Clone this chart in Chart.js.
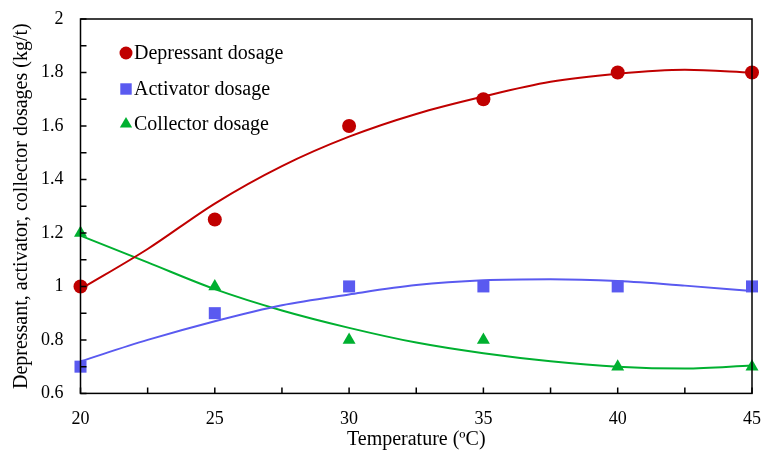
<!DOCTYPE html>
<html>
<head>
<meta charset="utf-8">
<script src="https://cdn.jsdelivr.net/npm/chart.js@4.4.1/dist/chart.umd.min.js"></script>
<style>
html, body { margin: 0; padding: 0; background: #fff; }
#wrap { width: 763px; height: 451px; }
</style>
</head>
<body>
<div id="wrap"><canvas id="chart"></canvas></div>
<script>
// measured points
var temps = [20, 25, 30, 35, 40, 45];
var depressant = [1.0, 1.25, 1.6, 1.7, 1.8, 1.8];
var activator = [0.7, 0.9, 1.0, 1.0, 1.0, 1.0];
var collector = [1.2, 1.0, 0.8, 0.8, 0.7, 0.7];

// trend curves
var curveTemps = [20, 22.5, 25, 27.5, 30, 32.5, 35, 37.5, 40, 42.5, 45];
var depressantFit = [0.99, 1.14, 1.31, 1.45, 1.56, 1.645, 1.71, 1.765, 1.795, 1.81, 1.80];
var activatorFit = [0.72, 0.80, 0.87, 0.93, 0.97, 1.005, 1.023, 1.027, 1.02, 1.003, 0.983];
var collectorFit = [1.19, 1.09, 0.99, 0.91, 0.845, 0.79, 0.75, 0.72, 0.70, 0.693, 0.704];

var red = "#C00000", blue = "#5A5AF0", green = "#00B030";
var sizes = { circle: 7, rect: 8.5, triangle: 7.5 };

function pts(xs, ys) {
	var out = [];
	for (var i = 0; i < xs.length; i++) out.push({x: xs[i], y: ys[i]});
	return out;
}

function fitSet(data, color) {
	return {
		label: "fit", data: pts(curveTemps, data), showLine: true,
		borderColor: color, borderWidth: 2, pointRadius: 0,
		cubicInterpolationMode: "monotone", fill: false, order: 2
	};
}

function pointSet(label, data, color, style) {
	return {
		label: label, data: pts(temps, data), showLine: false, clip: false,
		backgroundColor: color, borderColor: color, borderWidth: 0,
		pointStyle: style, pointRadius: sizes[style], order: 1
	};
}

//안쪽 눈금 + 테두리
var frame = {
	id: "frame",
	afterDraw: function (chart) {
		var ctx = chart.ctx, a = chart.chartArea;
		var xs = chart.scales.x, ys = chart.scales.y;
		ctx.save();
		ctx.strokeStyle = "#000";
		ctx.lineWidth = 1.5;
		ctx.strokeRect(a.left, a.top, a.right - a.left, a.bottom - a.top);
		ctx.beginPath();
		xs.ticks.forEach(function (t) {
			var px = xs.getPixelForValue(t.value);
			ctx.moveTo(px, a.bottom);
			ctx.lineTo(px, a.bottom - 6);
		});
		ys.ticks.forEach(function (t) {
			var py = ys.getPixelForValue(t.value);
			ctx.moveTo(a.left, py);
			ctx.lineTo(a.left + 6, py);
		});
		ctx.stroke();
		ctx.restore();
	}
};

var serif = "'Liberation Serif', 'Times New Roman', serif";
var tickFont = { family: serif, size: 18 };
var titleFont = { family: serif, size: 20, lineHeight: 1 };

new Chart(document.getElementById("chart"), {
	type: "scatter",
	data: {
		datasets: [
			pointSet("Depressant dosage", depressant, red, "circle"),
			pointSet("Activator dosage", activator, blue, "rect"),
			pointSet("Collector dosage", collector, green, "triangle"),
			fitSet(depressantFit, red),
			fitSet(activatorFit, blue),
			fitSet(collectorFit, green)
		]
	},
	options: {
		responsive: true,
		maintainAspectRatio: false,
		animation: false,
		layout: { autoPadding: false, padding: { left: 12, right: 11, top: 19, bottom: 1 } },
		plugins: {
			tooltip: { enabled: false },
			legend: { display: false }
		},
		scales: {
			x: {
				type: "linear", min: 20, max: 45,
				// 투명 눈금으로 라벨 간격만 확보
				grid: { display: true, drawOnChartArea: false, drawTicks: true, tickLength: 15, color: "rgba(0,0,0,0)" },
				border: { display: false },
				ticks: {
					stepSize: 2.5, color: "#000", font: tickFont, padding: 0, maxRotation: 0,
					callback: function (v) { return v % 5 === 0 ? v : ""; }
				},
				title: { display: true, text: "Temperature (ºC)", color: "#000", font: titleFont, padding: { top: 0, bottom: 0 } }
			},
			y: {
				min: 0.6, max: 2,
				grid: { display: true, drawOnChartArea: false, drawTicks: true, tickLength: 17, color: "rgba(0,0,0,0)" },
				border: { display: false },
				ticks: {
					stepSize: 0.1, color: "#000", font: tickFont, padding: 0,
					callback: function (v) {
						var n = Math.round(v * 10);
						return n % 2 === 0 ? String(n / 10) : "";
					}
				},
				title: { display: true, text: "Depressant, activator, collector dosages (kg/t)", color: "#000", font: titleFont, padding: { top: 0, bottom: 9 } }
			}
		}
	},
	plugins: [frame, {
		id: "legendBox",
		afterDraw: function (chart) {
			// 범례: 점 데이터셋만
			var ctx = chart.ctx;
			var rows = [[0, 53], [1, 89], [2, 124]];
			ctx.save();
			ctx.font = "20px " + serif;
			ctx.textBaseline = "middle";
			rows.forEach(function (r) {
				var ds = chart.data.datasets[r[0]];
				ctx.fillStyle = ds.backgroundColor;
				Chart.helpers.drawPoint(ctx, {
					pointStyle: ds.pointStyle, radius: ds.pointStyle == "circle" ? 6.5 : sizes[ds.pointStyle] * 0.95, borderWidth: 0
				}, 126, r[1]);
				ctx.fillStyle = "#000";
				ctx.fillText(ds.label, 134, r[1] + 1);
			});
			ctx.restore();
		}
	}]
});
</script>
</body>
</html>
